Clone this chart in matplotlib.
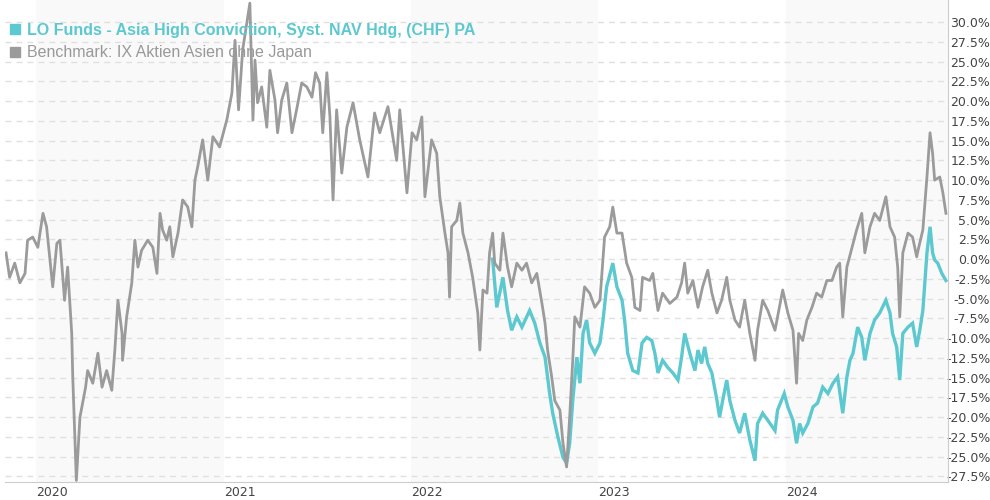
import matplotlib
matplotlib.use('Agg')
import matplotlib.pyplot as plt
import matplotlib.dates as mdates
from matplotlib.lines import Line2D
from matplotlib.ticker import FuncFormatter, FixedLocator
import numpy as np
import pandas as pd

# Benchmark: IX Aktien Asien ohne Japan (performance in %)
bench_dates = [
    '2019-11-04', '2019-11-11', '2019-11-21', '2019-12-01', '2019-12-11', '2019-12-16',
    '2019-12-26', '2020-01-05', '2020-01-15', '2020-01-22', '2020-02-03', '2020-02-11',
    '2020-02-17', '2020-02-26', '2020-03-03', '2020-03-11', '2020-03-13', '2020-03-20',
    '2020-03-27', '2020-04-02', '2020-04-07', '2020-04-11', '2020-04-21', '2020-05-01',
    '2020-05-09', '2020-05-18', '2020-05-28', '2020-06-03', '2020-06-09', '2020-06-17',
    '2020-06-18', '2020-06-26', '2020-07-06', '2020-07-12', '2020-07-18', '2020-07-25',
    '2020-08-06', '2020-08-16', '2020-08-24', '2020-08-30', '2020-09-04', '2020-09-12',
    '2020-09-18', '2020-09-24', '2020-10-04', '2020-10-13', '2020-10-23', '2020-10-31',
    '2020-11-06', '2020-11-12', '2020-11-21', '2020-12-01', '2020-12-11', '2020-12-24',
    '2021-01-07', '2021-01-17', '2021-01-23', '2021-01-30', '2021-02-07', '2021-02-21',
    '2021-02-27', '2021-03-03', '2021-03-08', '2021-03-16', '2021-03-26', '2021-04-01',
    '2021-04-11', '2021-04-16', '2021-04-24', '2021-05-04', '2021-05-14', '2021-05-23',
    '2021-06-02', '2021-06-12', '2021-06-22', '2021-06-29', '2021-07-07', '2021-07-13',
    '2021-07-21', '2021-07-27', '2021-08-02', '2021-08-09', '2021-08-19', '2021-08-29',
    '2021-09-10', '2021-09-23', '2021-10-09', '2021-10-22', '2021-11-01', '2021-11-17',
    '2021-12-04', '2021-12-10', '2021-12-24', '2022-01-03', '2022-01-12', '2022-01-22',
    '2022-01-28', '2022-02-10', '2022-02-20', '2022-02-26', '2022-03-08', '2022-03-14',
    '2022-03-17', '2022-03-21', '2022-03-31', '2022-04-06', '2022-04-12', '2022-04-22',
    '2022-05-01', '2022-05-11', '2022-05-15', '2022-05-21', '2022-05-29', '2022-06-03',
    '2022-06-09', '2022-06-13', '2022-06-23', '2022-06-29', '2022-07-08', '2022-07-16',
    '2022-07-26', '2022-08-05', '2022-08-14', '2022-08-24', '2022-09-03', '2022-09-13',
    '2022-09-19', '2022-09-24', '2022-10-02', '2022-10-08', '2022-10-18', '2022-10-24',
    '2022-10-31', '2022-11-06', '2022-11-12', '2022-11-16', '2022-11-26', '2022-12-05',
    '2022-12-15', '2022-12-25', '2023-01-04', '2023-01-13', '2023-01-23', '2023-01-29',
    '2023-02-06', '2023-02-16', '2023-02-25', '2023-03-07', '2023-03-13', '2023-03-23',
    '2023-03-28', '2023-04-11', '2023-04-17', '2023-04-27', '2023-05-06', '2023-05-20',
    '2023-06-03', '2023-06-12', '2023-06-18', '2023-06-24', '2023-07-04', '2023-07-14',
    '2023-07-23', '2023-08-02', '2023-08-10', '2023-08-20', '2023-08-29', '2023-09-08',
    '2023-09-14', '2023-09-24', '2023-10-03', '2023-10-13', '2023-10-23', '2023-11-02',
    '2023-11-07', '2023-11-17', '2023-11-27', '2023-12-11', '2023-12-16', '2023-12-26',
    '2024-01-05', '2024-01-15', '2024-01-22', '2024-01-26', '2024-02-03', '2024-02-11',
    '2024-02-21', '2024-03-01', '2024-03-11', '2024-03-21', '2024-03-31', '2024-04-09',
    '2024-04-15', '2024-04-21', '2024-04-29', '2024-05-09', '2024-05-18', '2024-05-28',
    '2024-06-03', '2024-06-13', '2024-06-22', '2024-07-02', '2024-07-14', '2024-07-22',
    '2024-07-31', '2024-08-06', '2024-08-10', '2024-08-16', '2024-08-26', '2024-09-04',
    '2024-09-12', '2024-09-16', '2024-09-24', '2024-10-02', '2024-10-08', '2024-10-13',
    '2024-10-17', '2024-10-27', '2024-11-02', '2024-11-08',
]
bench_vals = [
    0.8, -2.3, -0.5, -3.0, -1.8, 2.4,
    2.8, 1.5, 5.8, 4.1, -3.5, 2.0,
    2.4, -5.2, -1.0, -9.4, -14.9, -28.0,
    -20.0, -17.9, -16.2, -14.1, -15.7, -11.9,
    -16.2, -14.1, -16.6, -11.5, -5.2, -9.4,
    -12.8, -7.3, -3.0, 2.4, -1.0, 1.1,
    2.4, 1.5, -1.8, 5.8, 3.7, 2.4,
    4.1, 0.3, 3.3, 7.5, 6.6, 4.1,
    10.0, 11.9, 15.1, 10.0, 15.5, 14.2,
    17.6, 21.0, 27.7, 18.9, 26.5, 32.4,
    17.6, 25.2, 19.8, 21.8, 16.7, 23.9,
    20.1, 16.0, 20.1, 22.3, 16.0, 18.9,
    22.3, 21.8, 20.5, 23.6, 22.3, 16.0,
    23.6, 18.0, 7.5, 18.9, 10.9, 16.7,
    19.8, 15.1, 10.4, 18.5, 16.0, 19.3,
    12.5, 18.9, 8.4, 16.0, 15.1, 18.0,
    7.9, 15.1, 13.4, 7.9, 3.3, 0.8,
    -4.8, 4.1, 4.9, 7.1, 3.3, 0.8,
    -2.3, -6.8, -11.5, -3.9, -4.3, 0.8,
    3.3, -0.5, -1.4, 3.3, -1.0, -3.5,
    -0.5, -1.4, -0.5, -3.0, -1.8, -5.6,
    -8.1, -11.5, -14.9, -17.9, -19.1, -23.3,
    -26.3, -20.0, -12.8, -7.3, -8.6, -3.5,
    -4.3, -6.1, -5.2, 2.8, 4.1, 6.6,
    3.3, 3.3, -0.5, -2.3, -6.1, -6.5,
    -2.3, -2.7, -1.8, -6.5, -4.3, -5.6,
    -4.8, -3.0, -0.5, -4.3, -2.7, -6.1,
    -3.5, -1.4, -4.3, -6.8, -5.2, -2.3,
    -5.2, -7.7, -8.6, -5.2, -9.4, -12.8,
    -9.0, -5.2, -6.5, -9.0, -7.3, -3.9,
    -6.8, -9.0, -15.7, -9.4, -10.3, -7.7,
    -6.1, -4.3, -4.8, -2.7, -2.7, -1.0,
    -0.5, -7.3, -1.0, 1.5, 3.7, 5.8,
    0.8, 4.1, 5.8, 4.9, 7.9, 4.1,
    2.8, -1.0, -7.3, 0.8, 3.3, 2.8,
    0.3, 1.5, 3.7, 10.4, 16.0, 13.4,
    10.0, 10.4, 8.4, 5.8,
]

# LO Funds - Asia High Conviction, Syst. NAV Hdg, (CHF) PA (performance in %)
fund_dates = [
    '2022-06-09', '2022-06-17', '2022-06-29', '2022-07-08', '2022-07-16', '2022-07-26',
    '2022-08-05', '2022-08-20', '2022-08-30', '2022-09-09', '2022-09-19', '2022-09-28',
    '2022-10-04', '2022-10-14', '2022-10-24', '2022-10-31', '2022-11-06', '2022-11-12',
    '2022-11-20', '2022-11-26', '2022-12-02', '2022-12-09', '2022-12-15', '2022-12-25',
    '2023-01-04', '2023-01-10', '2023-01-17', '2023-01-29', '2023-02-06', '2023-02-16',
    '2023-02-21', '2023-02-27', '2023-03-09', '2023-03-19', '2023-03-27', '2023-04-05',
    '2023-04-15', '2023-04-21', '2023-04-27', '2023-05-06', '2023-05-16', '2023-05-26',
    '2023-06-05', '2023-06-12', '2023-06-18', '2023-06-28', '2023-07-08', '2023-07-14',
    '2023-07-21', '2023-07-27', '2023-08-02', '2023-08-10', '2023-08-20', '2023-08-25',
    '2023-08-31', '2023-09-08', '2023-09-14', '2023-09-24', '2023-10-03', '2023-10-13',
    '2023-10-23', '2023-11-02', '2023-11-07', '2023-11-17', '2023-11-27', '2023-12-11',
    '2023-12-16', '2023-12-29', '2024-01-05', '2024-01-15', '2024-01-22', '2024-01-28',
    '2024-02-03', '2024-02-13', '2024-02-23', '2024-03-03', '2024-03-13', '2024-03-23',
    '2024-04-02', '2024-04-11', '2024-04-21', '2024-04-29', '2024-05-05', '2024-05-11',
    '2024-05-20', '2024-05-28', '2024-06-03', '2024-06-13', '2024-06-22', '2024-07-02',
    '2024-07-14', '2024-07-22', '2024-07-27', '2024-08-04', '2024-08-10', '2024-08-16',
    '2024-08-26', '2024-09-04', '2024-09-12', '2024-09-18', '2024-09-24', '2024-10-02',
    '2024-10-08', '2024-10-13', '2024-10-17', '2024-10-23', '2024-10-31', '2024-11-08',
]
fund_vals = [
    0.0, -6.1, -2.3, -6.5, -9.0, -7.3,
    -8.6, -6.5, -8.1, -10.6, -12.4, -17.0,
    -19.5, -22.5, -25.1, -25.8, -23.3, -17.9,
    -12.4, -15.7, -9.4, -7.7, -10.6, -11.9,
    -10.6, -7.7, -3.5, -0.5, -3.5, -5.2,
    -7.7, -11.9, -14.1, -14.4, -10.6, -9.9,
    -10.3, -11.9, -14.4, -12.8, -13.7, -14.4,
    -15.3, -12.4, -9.4, -11.9, -14.1, -11.5,
    -13.2, -11.1, -13.2, -14.4, -17.9, -20.0,
    -17.9, -15.3, -17.9, -20.4, -22.0, -19.5,
    -22.9, -25.5, -20.8, -19.5, -20.4, -21.7,
    -19.1, -17.0, -18.7, -20.4, -23.3, -20.8,
    -22.0, -20.8, -18.7, -18.2, -16.2, -17.0,
    -15.7, -14.9, -19.5, -14.9, -12.8, -11.9,
    -8.6, -9.9, -12.8, -9.4, -7.7, -6.8,
    -5.2, -6.8, -9.4, -11.1, -15.3, -9.4,
    -8.6, -8.1, -11.1, -9.0, -6.5, 0.8,
    4.1, 0.8, -0.1, -0.5, -1.8, -2.7,
]

fund_name = 'LO Funds - Asia High Conviction, Syst. NAV Hdg, (CHF) PA'
bench_name = 'Benchmark: IX Aktien Asien ohne Japan'
shaded_years = [2020, 2022, 2024]
y_ticks = np.arange(-27.5, 30.1, 2.5)

teal = '#5cc8cf'
grey = '#9b9b9b'

plt.rcParams['lines.scale_dashes'] = False

fig = plt.figure(figsize=(9.9, 5.0), dpi=100)
ax = fig.add_axes([5 / 990, 18 / 500, 943 / 990, 482 / 500])

x_start = pd.Timestamp('2019-11-02')
x_end = pd.Timestamp('2024-11-12')

# alternating year bands
for yr in shaded_years:
    ax.axvspan(pd.Timestamp(f'{yr}-01-01'), min(pd.Timestamp(f'{yr + 1}-01-01'), x_end),
               color='#f9f9f9', zorder=0, lw=0)

ax.plot(pd.to_datetime(fund_dates), fund_vals, color=teal, lw=2.4,
        solid_joinstyle='miter', zorder=3)
ax.plot(pd.to_datetime(bench_dates), bench_vals, color=grey, lw=2.0, zorder=4)

ax.set_xlim(x_start, x_end)
ax.set_ylim(-28.2, 32.8)

ax.yaxis.set_major_locator(FixedLocator(y_ticks))
ax.yaxis.set_major_formatter(FuncFormatter(lambda v, p: f'{v:.1f}%'))
ax.yaxis.tick_right()
ax.grid(axis='y', color='#e0e0e0', lw=1, linestyle=(0, (4.3, 3.6)), zorder=1)
ax.set_axisbelow(True)
ax.tick_params(axis='y', length=0, pad=30.5, labelsize=9, labelcolor='#444444')
for lab in ax.get_yticklabels():
    lab.set_horizontalalignment('right')

ax.xaxis.set_major_locator(mdates.YearLocator())
ax.xaxis.set_major_formatter(mdates.DateFormatter('%Y'))
ax.tick_params(axis='x', length=0, pad=3, labelsize=9, labelcolor='#444444')
for lab in ax.get_xticklabels():
    lab.set_horizontalalignment('left')

for side in ['top', 'left']:
    ax.spines[side].set_visible(False)
ax.spines['right'].set_color('#cccccc')
ax.spines['bottom'].set_color('#cccccc')

handles = [
    Line2D([], [], marker='s', color=teal, linestyle='none', markersize=7),
    Line2D([], [], marker='s', color=grey, linestyle='none', markersize=7),
]
leg = ax.legend(handles, [fund_name, bench_name], loc='upper left',
                bbox_to_anchor=(9 / 990, 1 - 23 / 500), bbox_transform=fig.transFigure,
                frameon=False, borderpad=0, borderaxespad=0, handlelength=0.7,
                handletextpad=0.45, labelspacing=0.45,
                prop={'family': 'Liberation Sans', 'size': 11.5})
leg.get_texts()[0].set_color(teal)
leg.get_texts()[0].set_fontweight('bold')
leg.get_texts()[1].set_color('#999999')
leg.set_zorder(5)

fig.savefig('out.png', dpi=100)
